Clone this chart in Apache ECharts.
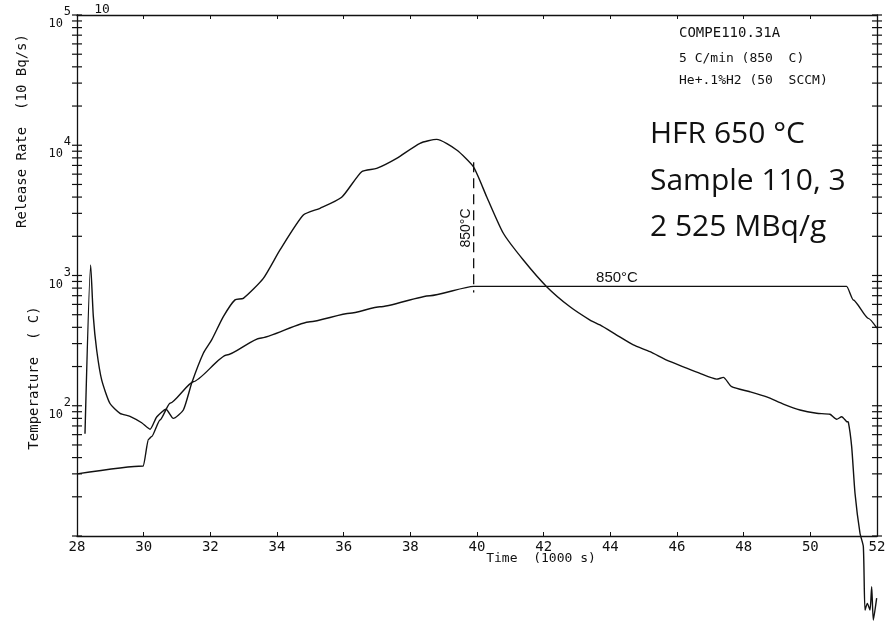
<!DOCTYPE html>
<html>
<head>
<meta charset="utf-8">
<script src="https://cdn.jsdelivr.net/npm/echarts@6/dist/echarts.min.js"></script>
<style>
  html, body { margin: 0; padding: 0; background: #fff; }
  #chart { width: 890px; height: 622px; }
</style>
</head>
<body>
<div id="chart"></div>
<script>
// time axis in 1000 s, release rate and temperature share one log axis
const xTicks = [28, 30, 32, 34, 36, 38, 40, 42, 44, 46, 48, 50, 52]

const relTime = [28.24, 28.41, 28.49, 28.59, 28.74, 28.99, 29.29, 29.59, 29.94, 30.19,
  30.39, 30.67, 30.89, 31.19, 31.44, 31.79, 32.04, 32.39, 32.74, 32.99,
  33.59, 34.09, 34.79, 35.29, 35.94, 36.54, 36.99, 37.59, 38.29, 38.79,
  39.39, 39.89, 40.29, 40.79, 41.39, 42.09, 42.79, 43.39, 43.69, 44.19,
  44.69, 45.19, 45.69, 46.19, 46.69, 47.19, 47.39, 47.64, 48.19, 48.69,
  49.19, 49.69, 50.19, 50.59, 50.79, 50.94, 51.09, 51.14, 51.24, 51.34,
  51.49, 51.59, 51.64, 51.71, 51.79, 51.84, 51.89, 51.99]
const relRate = [61, 1205, 483, 268, 158, 104, 87.5, 83, 74, 66,
  82, 94, 80, 92.7, 149, 253, 320, 483, 650, 668,
  950, 1570, 2910, 3280, 3985, 6265, 6650, 7940, 10350, 11100,
  9200, 6845, 4025, 2110, 1315, 821, 575, 455, 417, 349,
  293, 260, 224, 199, 177, 160, 165, 140, 128, 117,
  103, 92.7, 87.5, 86, 78.7, 82.4, 75.5, 75, 48.5, 21.3,
  10.5, 8.3, 2.7, 3.04, 2.7, 4.08, 2.26, 3.33]

const tempTime = [28.0, 29.99, 30.14, 30.24, 30.49, 30.79, 31.49, 32.49, 33.49, 34.99,
  36.19, 37.09, 38.59, 39.9, 51.09, 51.29, 51.74, 52.0]
const tempVal = [30, 34.5, 55, 58, 77.8, 104.5, 153, 245, 330, 442,
  513, 575, 700, 825, 825, 649, 469, 395]

// dashed marker at the moment 850 C is reached
const markTime = [39.9, 39.9]
const markVal = [7400, 740]

const decades = [10, 100, 1000, 10000]
const steps = [1, 2, 3, 4, 5, 6, 7, 8, 9]
const yTicks = []
decades.forEach(d => steps.forEach(s => yTicks.push(d * s)))
yTicks.push(100000)

const monoFont = 'DejaVu Sans Mono'
const zip = (a, b) => a.map((v, i) => [v, b[i]])

const chart = echarts.init(document.getElementById('chart'))

const options = {
  animation: false,
  backgroundColor: '#fff',
  grid: { left: 77, right: 13, top: 15, bottom: 86 },
  xAxis: [
    {
      type: 'value', min: 28, max: 52, interval: 2, position: 'bottom',
      axisLine: { lineStyle: { color: '#111', width: 1.3 } },
      axisTick: { inside: true, length: 4, lineStyle: { color: '#111' } },
      axisLabel: { margin: 4, fontFamily: monoFont, fontSize: 14, color: '#111' },
      splitLine: { show: false }
    },
    {
      type: 'value', min: 28, max: 52, interval: 2, position: 'top',
      axisLine: { lineStyle: { color: '#111', width: 1.3 } },
      axisTick: { inside: true, length: 4, lineStyle: { color: '#111' } },
      axisLabel: { show: false },
      splitLine: { show: false }
    }
  ],
  yAxis: [
    {
      type: 'log', logBase: 10, min: 10, max: 100000, position: 'left',
      axisLine: { show: true, lineStyle: { color: '#111', width: 1.3 } },
      axisTick: { show: false },
      splitLine: { show: false },
      axisLabel: {
        margin: 6,
        showMinLabel: false,
        formatter: v => '{s|' + Math.round(Math.log10(v)) + '}\n{b|10}',
        rich: {
          s: { fontFamily: monoFont, fontSize: 12, color: '#111', lineHeight: 18, align: 'right' },
          b: { fontFamily: monoFont, fontSize: 12, color: '#111', lineHeight: 6, align: 'right', padding: [0, 8, 0, 0] }
        }
      }
    },
    {
      type: 'log', logBase: 10, min: 10, max: 100000, position: 'right',
      axisLine: { show: true, lineStyle: { color: '#111', width: 1.3 } },
      axisTick: { show: false },
      axisLabel: { show: false },
      splitLine: { show: false }
    }
  ],
  series: [
    {
      name: 'Release rate', type: 'line', data: zip(relTime, relRate),
      showSymbol: false, smooth: 0.2, clip: false,
      lineStyle: { color: '#111', width: 1.4 }
    },
    {
      name: 'Temperature', type: 'line', data: zip(tempTime, tempVal),
      showSymbol: false, smooth: 0.2, smoothMonotone: 'x', clip: false,
      lineStyle: { color: '#111', width: 1.4 }
    },
    {
      name: '850 C', type: 'line', data: zip(markTime, markVal),
      showSymbol: false,
      lineStyle: { color: '#111', width: 1.3, type: [10, 6] }
    },
    {
      // log minor/major ticks crossing the left and right frame
      type: 'custom', clip: false, silent: true,
      data: yTicks.map(v => [28, v]),
      renderItem: (params, api) => {
        const l = api.coord([28, api.value(1)])
        const r = api.coord([52, api.value(1)])
        const st = { stroke: '#111', lineWidth: 1.2 }
        return {
          type: 'group',
          children: [
            { type: 'line', shape: { x1: l[0] - 5, y1: l[1], x2: l[0] + 5, y2: l[1] }, style: st },
            { type: 'line', shape: { x1: r[0] - 5, y1: r[1], x2: r[0] + 5, y2: r[1] }, style: st }
          ]
        }
      }
    }
  ],
  graphic: [
    { type: 'text', x: 22, y: 131, rotation: Math.PI / 2, style: { text: 'Release Rate  (10 Bq/s)', font: '14px ' + monoFont, fill: '#111', align: 'center', verticalAlign: 'middle' } },
    { type: 'text', x: 34, y: 378, rotation: Math.PI / 2, style: { text: 'Temperature  ( C)', font: '14px ' + monoFont, fill: '#111', align: 'center', verticalAlign: 'middle' } },
    { type: 'text', x: 102, y: 10, style: { text: '10', font: '13px ' + monoFont, fill: '#111', align: 'center', verticalAlign: 'middle' } },
    { type: 'text', x: 541, y: 559, style: { text: 'Time  (1000 s)', font: '13px ' + monoFont, fill: '#111', align: 'center', verticalAlign: 'middle' } },
    { type: 'text', x: 679, y: 33, style: { text: 'COMPE110.31A', font: '14px ' + monoFont, fill: '#111', verticalAlign: 'middle' } },
    { type: 'text', x: 679, y: 59, style: { text: '5 C/min (850  C)', font: '13px ' + monoFont, fill: '#111', verticalAlign: 'middle' } },
    { type: 'text', x: 679, y: 81, style: { text: 'He+.1%H2 (50  SCCM)', font: '13px ' + monoFont, fill: '#111', verticalAlign: 'middle' } },
    { type: 'text', x: 650, y: 134, style: { text: 'HFR 650 °C', font: '30px "Open Sans"', fill: '#111', verticalAlign: 'middle' } },
    { type: 'text', x: 650, y: 181, style: { text: 'Sample 110, 3', font: '30px "Open Sans"', fill: '#111', verticalAlign: 'middle' } },
    { type: 'text', x: 650, y: 227, style: { text: '2 525 MBq/g', font: '30px "Open Sans"', fill: '#111', verticalAlign: 'middle' } },
    { type: 'text', x: 617, y: 278, style: { text: '850°C', font: '15px "Liberation Sans"', fill: '#111', align: 'center', verticalAlign: 'middle' } },
    { type: 'text', x: 466, y: 228, rotation: Math.PI / 2, style: { text: '850°C', font: '14px "Liberation Sans"', fill: '#111', align: 'center', verticalAlign: 'middle' } }
  ]
}

chart.setOption(options)
</script>
</body>
</html>
